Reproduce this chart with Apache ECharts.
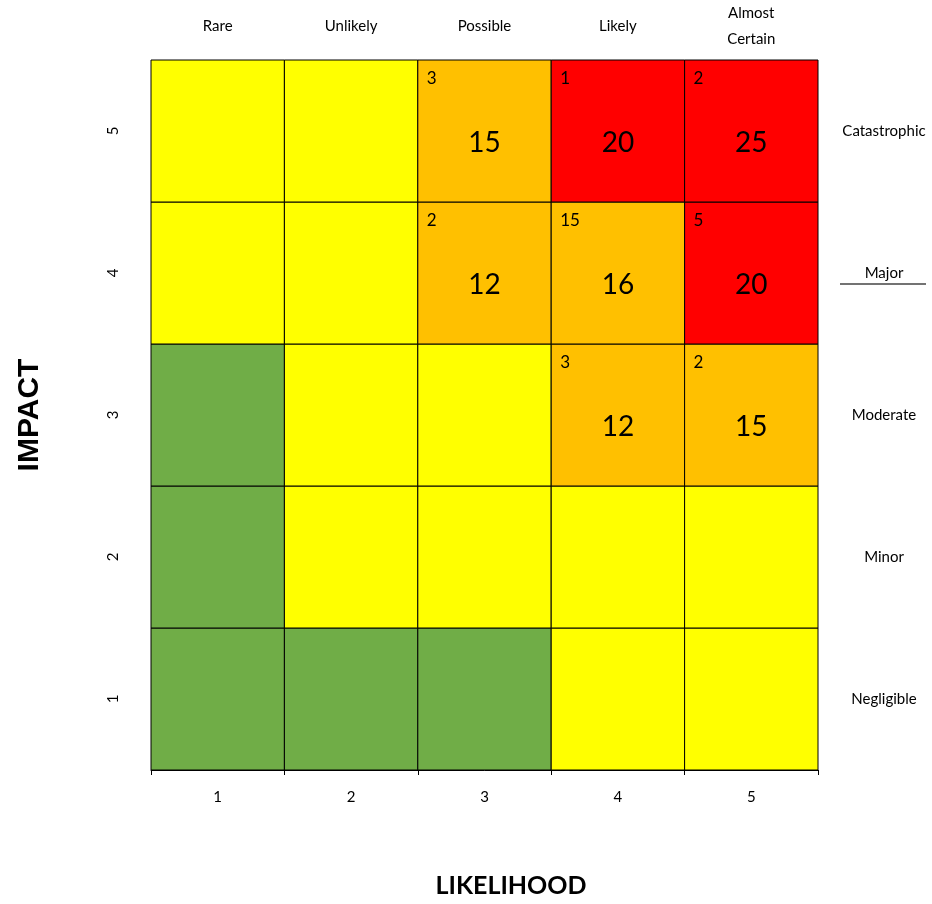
<!DOCTYPE html>
<html>
<head>
<meta charset="utf-8">
<script src="https://cdn.jsdelivr.net/npm/echarts@6/dist/echarts.min.js"></script>
<style>
  html, body { margin: 0; padding: 0; background: #ffffff; }
  #chart { width: 932px; height: 904px; }
</style>
</head>
<body>
<div id="chart"></div>
<script>
// Risk matrix: likelihood (columns) against impact (rows)
const likelihoodTicks = ['1', '2', '3', '4', '5'];
const likelihoodNames = ['Rare', 'Unlikely', 'Possible', 'Likely', 'Almost\nCertain'];
const impactTicks = ['1', '2', '3', '4', '5'];
const impactNames = ['Negligible', 'Minor', 'Moderate', 'Major', 'Catastrophic'];

// Risk level of each cell, one row per impact level (1 at the bottom)
const riskLevels = [
  ['low', 'low', 'low', 'medium', 'medium'],          // impact 1
  ['low', 'medium', 'medium', 'medium', 'medium'],    // impact 2
  ['low', 'medium', 'medium', 'high', 'high'],        // impact 3
  ['medium', 'medium', 'high', 'high', 'extreme'],    // impact 4
  ['medium', 'medium', 'high', 'extreme', 'extreme']  // impact 5
];

// Cells holding risks: [likelihood index, impact index, number of risks, risk score]
const riskCounts = [
  [2, 4, 3, 15],
  [3, 4, 1, 20],
  [4, 4, 2, 25],
  [2, 3, 2, 12],
  [3, 3, 15, 16],
  [4, 3, 5, 20],
  [3, 2, 3, 12],
  [4, 2, 2, 15]
];

const levelColors = {
  low: '#70AD47',
  medium: '#FFFF00',
  high: '#FFC000',
  extreme: '#FF0000'
};

const FONT = 'Lato, "Open Sans", sans-serif';

// Flatten the grid into [x, y, level, count, score] items
const cells = [];
for (let y = 0; y < riskLevels.length; y++) {
  for (let x = 0; x < riskLevels[y].length; x++) {
    const hit = riskCounts.find(r => r[0] === x && r[1] === y);
    cells.push([x, y, riskLevels[y][x], hit ? hit[2] : null, hit ? hit[3] : null]);
  }
}

function renderCell(params, api) {
  const c = api.coord([api.value(0), api.value(1)]);
  const s = api.size([1, 1]);
  const level = cells[params.dataIndex][2];
  const count = cells[params.dataIndex][3];
  const score = cells[params.dataIndex][4];
  const x0 = c[0] - s[0] / 2;
  const y0 = c[1] - s[1] / 2;
  const children = [{
    type: 'rect',
    shape: { x: x0, y: y0, width: s[0], height: s[1] },
    style: { fill: levelColors[level], stroke: '#000000', lineWidth: 1 }
  }];
  if (count !== null) {
    children.push({
      type: 'text',
      style: {
        x: x0 + 9, y: y0 + 19, text: String(count),
        fill: '#000', font: '17px ' + FONT, verticalAlign: 'middle', align: 'left'
      }
    });
    children.push({
      type: 'text',
      style: {
        x: c[0], y: c[1] + 12, text: String(score),
        fill: '#000', font: '28px ' + FONT, verticalAlign: 'middle', align: 'center'
      }
    });
  }
  return { type: 'group', children: children };
}

const chart = echarts.init(document.getElementById('chart'), null, { renderer: 'canvas' });

chart.setOption({
  animation: false,
  backgroundColor: '#ffffff',
  grid: { left: 151, right: 114, top: 60, bottom: 134 },
  xAxis: [{
    type: 'category',
    data: likelihoodTicks,
    position: 'bottom',
    axisLine: { lineStyle: { color: '#000', width: 1 } },
    axisTick: { show: true, length: 5, lineStyle: { color: '#000' } },
    axisLabel: { color: '#000', fontSize: 15, fontFamily: FONT, margin: 20 },
    splitLine: { show: false }
  }, {
    type: 'category',
    data: likelihoodNames,
    position: 'top',
    axisLine: { show: false },
    axisTick: { show: false },
    axisLabel: {
      color: '#000', fontSize: 15, fontFamily: FONT, margin: 34,
      verticalAlign: 'middle', lineHeight: 26
    }
  }],
  yAxis: [{
    type: 'category',
    data: impactTicks,
    position: 'left',
    axisLine: { show: false },
    axisTick: { show: false },
    axisLabel: { color: '#000', fontSize: 15, fontFamily: FONT, margin: 30, rotate: 90 }
  }, {
    type: 'category',
    data: impactNames,
    position: 'right',
    axisLine: { show: false },
    axisTick: { show: false },
    axisLabel: { color: '#000', fontSize: 15, fontFamily: FONT, margin: 66, align: 'center' }
  }],
  series: [{
    type: 'custom',
    xAxisIndex: 0,
    yAxisIndex: 0,
    renderItem: renderCell,
    data: cells.map(d => [d[0], d[1]]),
    encode: { x: 0, y: 1 }
  }],
  graphic: [{
    type: 'text',
    rotation: Math.PI / 2,
    x: 30, y: 415,
    style: {
      text: 'IMPACT', fill: '#000', font: 'bold 30px "Liberation Sans", Arial, sans-serif',
      align: 'center', verticalAlign: 'middle'
    }
  }, {
    type: 'text',
    x: 511, y: 886,
    style: {
      text: 'LIKELIHOOD', fill: '#000', font: 'bold 25px ' + FONT,
      align: 'center', verticalAlign: 'middle'
    }
  }, {
    type: 'line',
    shape: { x1: 840, y1: 284, x2: 926, y2: 284 },
    style: { stroke: '#444', lineWidth: 1.5 }
  }]
});
</script>
</body>
</html>
